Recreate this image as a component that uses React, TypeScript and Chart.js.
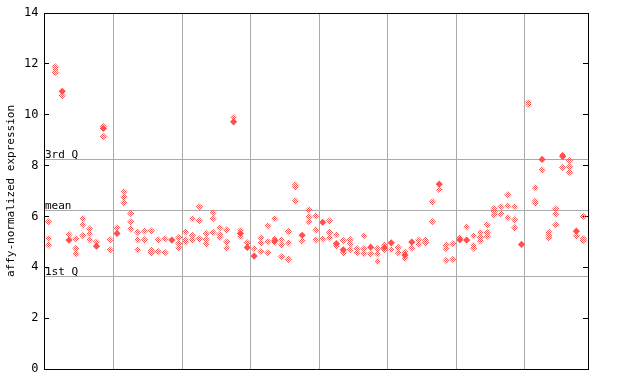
import { useEffect, useRef } from 'react';
import { Chart, registerables } from 'chart.js';

Chart.register(...registerables);

// ---- data ----
const groupBoundaries = [9.5, 19.5, 29.5, 39.5, 49.5, 59.5, 69.5];
const yTickValues = [0, 2, 4, 6, 8, 10, 12, 14];
const quartileValues = [3.63, 6.23, 8.25];
const quartileLabels = ['1st Q', 'mean', '3rd Q'];
const yTitle = 'affy-normalized expression';

// per-sample replicate values (light, dithered diamonds)
const lightValues: number[][] = [
  [5.79, 5.13, 4.88], [11.88, 11.78, 11.66], [10.75], [5.29], [5.12, 4.74, 4.53],
  [5.91, 5.67, 5.25], [5.51, 5.32, 5.08], [4.99], [9.53, 9.14], [5.08, 4.69],
  [5.55], [6.97, 6.76, 6.54], [6.12, 5.79, 5.51], [5.38, 5.08, 4.69], [5.43, 5.08],
  [5.43, 4.67, 4.57], [5.08, 4.62], [5.12, 4.58], [], [5.17, 4.94, 4.76],
  [5.39, 5.09, 5.0], [5.91, 5.26, 5.07], [6.38, 5.83, 5.12], [5.32, 5.09, 4.92], [6.14, 5.91, 5.37],
  [5.55, 5.29, 5.18], [5.47, 5.0, 4.75], [9.9], [5.45, 5.2], [4.96],
  [4.73], [5.16, 4.96, 4.62], [5.63, 5.01, 4.57], [5.91, 5.12, 4.97], [5.08, 4.88, 4.41],
  [5.41, 4.96, 4.31], [7.24, 7.16, 6.61], [5.04], [6.26, 5.98, 5.79], [6.02, 5.47, 5.08],
  [5.12], [5.83, 5.37, 5.16], [5.28, 4.83], [5.05, 4.57], [5.09, 4.92, 4.69],
  [4.73, 4.57], [5.24, 4.73, 4.54], [4.53], [4.73, 4.53, 4.23], [4.88, 4.7],
  [4.7], [4.78, 4.57], [4.6, 4.36], [4.75], [5.07, 4.9],
  [5.07, 4.96], [6.57, 5.79], [7.05], [4.88, 4.73, 4.27], [4.93, 4.31],
  [5.16], [5.59], [5.24, 4.86, 4.75], [5.37, 5.18, 5.04], [5.67, 5.36, 5.22],
  [6.31, 6.19, 6.06], [6.38, 6.1], [6.85, 6.42, 5.95], [6.38, 5.87, 5.55], [],
  [10.48, 10.4], [7.13, 6.6, 6.52], [7.83], [5.38, 5.26, 5.16], [6.3, 6.1, 5.67],
  [8.43, 7.92], [8.2, 7.95, 7.74], [5.23], [6.0, 5.12, 5.05],
];

// per-sample replicate values (solid diamonds)
const solidValues: number[][] = [
  [], [], [10.92], [5.07], [],
  [], [], [4.83], [9.46], [],
  [5.33], [], [], [], [],
  [], [], [], [5.07], [],
  [], [], [], [], [],
  [], [], [9.72], [5.33], [4.78],
  [4.44], [], [], [5.04], [],
  [], [], [5.26], [], [],
  [5.77], [], [4.93], [4.69], [],
  [], [], [4.79], [], [4.77],
  [4.96], [], [4.48], [4.99], [],
  [], [], [7.27], [], [],
  [5.08], [5.07], [], [], [],
  [], [], [], [], [4.9],
  [], [], [8.24], [], [],
  [8.36], [], [5.42], [],
];

const toPoints = (rows: number[][]) =>
  rows.flatMap((vals, i) => vals.map((v) => ({ x: i, y: v })));

const RED = '#ff5050';
const FONT = { family: 'DejaVu Sans Mono', size: 11 };
const TICK_FONT = { family: 'DejaVu Sans Mono', size: 12 };

function makeDither(): CanvasPattern | string {
  const c = document.createElement('canvas');
  c.width = 2;
  c.height = 2;
  const g = c.getContext('2d');
  if (!g) return RED;
  g.fillStyle = RED;
  g.fillRect(0, 0, 1, 1);
  g.fillRect(1, 1, 1, 1);
  const ctx = document.createElement('canvas').getContext('2d');
  const p = ctx ? ctx.createPattern(c, 'repeat') : null;
  return p || RED;
}

const zeroPad = (s: any) => {
  s.paddingTop = 0;
  s.paddingBottom = 0;
  s.paddingLeft = 0;
  s.paddingRight = 0;
};

export default function App() {
  const ref = useRef<HTMLCanvasElement | null>(null);

  useEffect(() => {
    if (!ref.current) return;
    const dither = makeDither();
    const xMin = -0.656;
    const xMax = 78.7;
    const chart = new Chart(ref.current, {
      type: 'scatter',
      data: {
        datasets: [
          {
            label: 'light',
            data: toPoints(lightValues),
            pointStyle: 'rectRot',
            pointRadius: 3.6,
            pointBorderWidth: 0,
            backgroundColor: dither as any,
            borderColor: 'rgba(0,0,0,0)',
          },
          {
            label: 'solid',
            data: toPoints(solidValues),
            pointStyle: 'rectRot',
            pointRadius: 3.6,
            pointBorderWidth: 0,
            backgroundColor: RED,
            borderColor: 'rgba(0,0,0,0)',
          },
        ],
      },
      options: {
        responsive: false,
        animation: false,
        events: [],
        layout: { padding: { left: 0, top: 13, right: 52, bottom: 15 } },
        plugins: { legend: { display: false }, tooltip: { enabled: false } },
        scales: {
          x: {
            type: 'linear',
            position: 'bottom',
            min: xMin,
            max: xMax,
            afterBuildTicks: (s: any) => {
              s.ticks = groupBoundaries.map((v) => ({ value: v }));
            },
            ticks: { display: false },
            grid: { color: '#aaaaaa', drawTicks: false, lineWidth: 1 },
            border: { display: true, color: '#000000' },
            afterFit: (s: any) => {
              s.height = 0;
              zeroPad(s);
            },
          },
          xTop: {
            type: 'linear',
            position: 'top',
            min: xMin,
            max: xMax,
            ticks: { display: false },
            grid: { display: false },
            border: { display: true, color: '#000000' },
            afterFit: (s: any) => {
              s.height = 0;
              zeroPad(s);
            },
          },
          y: {
            type: 'linear',
            position: 'left',
            weight: 2,
            min: 0,
            max: 14,
            afterBuildTicks: (s: any) => {
              s.ticks = yTickValues.map((v) => ({ value: v }));
            },
            ticks: { color: '#000000', font: TICK_FONT, padding: 10.5 },
            grid: { drawOnChartArea: false, tickLength: -5, color: '#000000' },
            border: { display: true, color: '#000000' },
            title: {
              display: true,
              text: yTitle,
              color: '#000000',
              font: FONT,
              padding: { top: 5, bottom: 0 },
            },
            afterFit: (s: any) => {
              s.width = 44;
              zeroPad(s);
            },
          },
          yQ: {
            type: 'linear',
            position: 'left',
            weight: 0,
            min: 0,
            max: 14,
            afterBuildTicks: (s: any) => {
              s.ticks = quartileValues.map((v) => ({ value: v }));
            },
            ticks: {
              mirror: true,
              padding: 1,
              labelOffset: -4.5,
              color: '#000000',
              font: FONT,
              callback: (_v: any, i: number) => quartileLabels[i],
            },
            grid: { color: '#aaaaaa', drawTicks: false, lineWidth: 1 },
            border: { display: false },
            afterFit: (s: any) => {
              s.width = 0;
              zeroPad(s);
            },
          },
          y2: {
            type: 'linear',
            position: 'right',
            min: 0,
            max: 14,
            afterBuildTicks: (s: any) => {
              s.ticks = yTickValues.map((v) => ({ value: v }));
            },
            ticks: { display: false },
            grid: { drawOnChartArea: false, tickLength: -5, color: '#000000' },
            border: { display: true, color: '#000000' },
            afterFit: (s: any) => {
              s.width = 0;
              zeroPad(s);
            },
          },
        },
      } as any,
    });
    return () => chart.destroy();
  }, []);

  return (
    <div style={{ position: 'fixed', left: 0, top: 0, width: 640, height: 384, background: '#ffffff' }}>
      <canvas ref={ref} width={640} height={384} />
    </div>
  );
}
